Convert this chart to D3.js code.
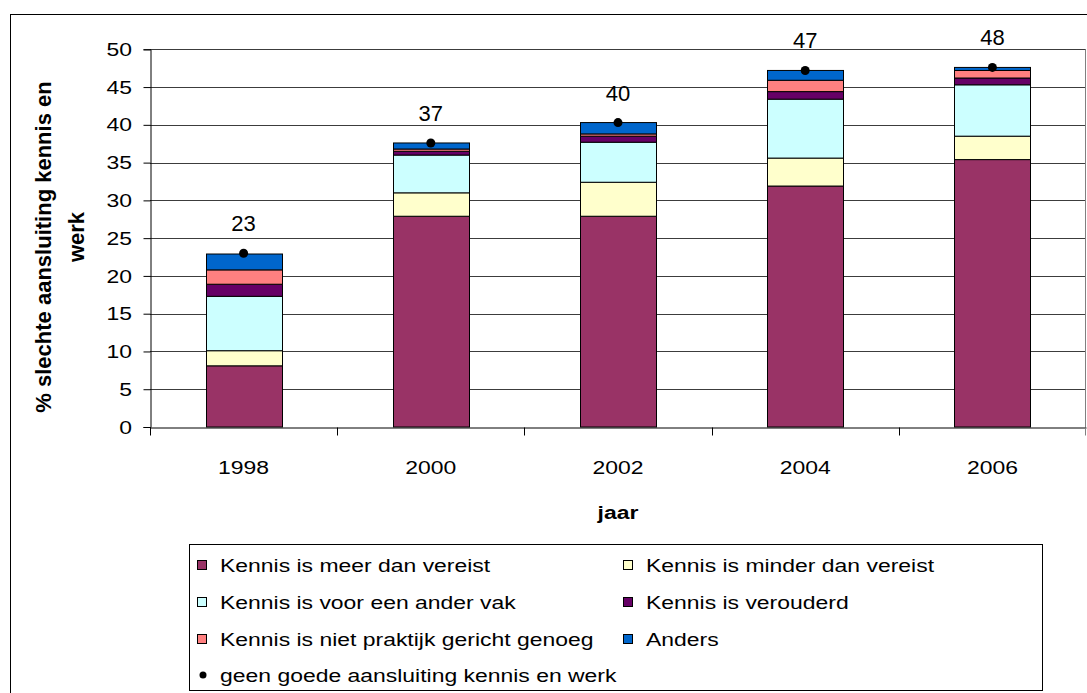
<!DOCTYPE html>
<html>
<head>
<meta charset="utf-8">
<script src="https://cdn.jsdelivr.net/npm/d3@7"></script>
<style>
  body { margin: 0; background: #fff; }
  svg { display: block; font-family: 'Liberation Sans', Arial, sans-serif; }
</style>
</head>
<body>
<svg id="chart" width="1087" height="693"></svg>
<script>
// data
const years = ['1998', '2000', '2002', '2004', '2006'];
const meerDanVereist   = [8.1, 27.9, 27.9, 31.9, 35.4];
const minderDanVereist = [2.0, 3.1, 4.5, 3.7, 3.1];
const anderVak         = [7.2, 5.0, 5.3, 7.8, 6.8];
const verouderd        = [1.6, 0.5, 0.8, 1.0, 0.9];
const nietPraktijk     = [1.9, 0.3, 0.3, 1.5, 1.0];
const anders           = [2.1, 0.8, 1.5, 1.3, 0.4];
const geenGoedeAansluiting = [23.0, 37.6, 40.3, 47.2, 47.6];
const pointLabels = ['23', '37', '40', '47', '48'];
const yTicks = [0, 5, 10, 15, 20, 25, 30, 35, 40, 45, 50];

const seriesNames = [
  'Kennis is meer dan vereist',
  'Kennis is minder dan vereist',
  'Kennis is voor een ander vak',
  'Kennis is verouderd',
  'Kennis is niet praktijk gericht genoeg',
  'Anders'
];
const seriesValues = [meerDanVereist, minderDanVereist, anderVak, verouderd, nietPraktijk, anders];
const colors = ['#993366', '#FFFFCC', '#CCFFFF', '#660066', '#FF8080', '#0066CC'];
const lineName = 'geen goede aansluiting kennis en werk';

const svg = d3.select('#chart');
const sx = 1.24; // the picture is a bit wider than tall

// table for d3.stack
let table = years.map((year, i) => {
  let row = { year: year };
  seriesNames.forEach((name, s) => { row[name] = seriesValues[s][i]; });
  return row;
});
let stacked = d3.stack().keys(seriesNames)(table);

// chart frame
svg.append('rect')
  .attr('x', 10.5).attr('y', 14.5)
  .attr('width', 1100).attr('height', 700)
  .attr('fill', 'none').attr('stroke', '#000');

let plotLeft = 150, plotRight = 1086, plotTop = 49.3, plotBottom = 427;

let xCat = d3.scaleBand().domain(years).range([plotLeft, plotRight]);
let x = d3.scaleBand().domain(years).range([plotLeft, plotRight])
  .paddingInner(0.594).paddingOuter(0.297);
let y = d3.scaleLinear().domain([0, 50]).range([plotBottom, plotTop]);

// gridlines
svg.append('g')
  .selectAll('line')
  .data(yTicks.slice(1))
  .join('line')
  .attr('x1', plotLeft).attr('x2', plotRight)
  .attr('y1', d => Math.round(y(d)) + 0.5)
  .attr('y2', d => Math.round(y(d)) + 0.5)
  .attr('stroke', '#3c3c3c');

// plot area edge
svg.append('line')
  .attr('x1', plotRight - 0.5).attr('x2', plotRight - 0.5)
  .attr('y1', y(50)).attr('y2', plotBottom + 8)
  .attr('stroke', '#808080');

// bars
svg.append('g')
  .selectAll('g')
  .data(stacked)
  .join('g')
  .attr('fill', (d, i) => colors[i])
  .selectAll('rect')
  .data(d => d)
  .join('rect')
  .attr('x', d => Math.round(x(d.data.year)) + 0.5)
  .attr('width', Math.round(x.bandwidth()))
  .attr('y', d => y(d[1]))
  .attr('height', d => y(d[0]) - y(d[1]))
  .attr('stroke', '#000')
  .attr('stroke-width', 1);

// y axis
let yAxis = d3.axisLeft(y).tickValues(yTicks).tickSize(7).tickFormat('');
let yG = svg.append('g')
  .attr('transform', `translate(${plotLeft + 0.5},0)`)
  .call(yAxis);
yG.select('.domain').attr('stroke', '#000');
yG.selectAll('.tick line').attr('stroke', '#000');

svg.append('g')
  .selectAll('text')
  .data(yTicks)
  .join('text')
  .attr('transform', d => `translate(132,${y(d) + 6.6}) scale(${sx},1)`)
  .attr('text-anchor', 'end')
  .attr('font-size', 18.5)
  .text(d => d);

// x axis, ticks on category boundaries
let xAxis = d3.axisBottom(xCat).tickSize(0).tickFormat('');
let xG = svg.append('g')
  .attr('transform', `translate(0,${plotBottom + 0.5})`)
  .call(xAxis);
xG.select('.domain').attr('stroke', '#000');
xG.append('g')
  .selectAll('line')
  .data(years.concat(['end']))
  .join('line')
  .attr('x1', d => d === 'end' ? plotRight - 0.5 : Math.round(xCat(d)) + 0.5)
  .attr('x2', d => d === 'end' ? plotRight - 0.5 : Math.round(xCat(d)) + 0.5)
  .attr('y1', 0).attr('y2', 8)
  .attr('stroke', d => d === 'end' ? '#808080' : '#000');

svg.append('g')
  .selectAll('text')
  .data(years)
  .join('text')
  .attr('transform', d => `translate(${xCat(d) + xCat.bandwidth() / 2},474) scale(${sx},1)`)
  .attr('text-anchor', 'middle')
  .attr('font-size', 18.5)
  .text(d => d);

// axis titles
svg.append('text')
  .attr('transform', `translate(${(plotLeft + plotRight) / 2},519) scale(${sx},1)`)
  .attr('text-anchor', 'middle')
  .attr('font-size', 18.5)
  .attr('font-weight', 'bold')
  .text('jaar');

svg.append('text')
  .attr('transform', 'translate(51,247) rotate(-90)')
  .attr('text-anchor', 'middle')
  .attr('font-size', 22)
  .attr('font-weight', 'bold')
  .text('% slechte aansluiting kennis en');
svg.append('text')
  .attr('transform', 'translate(84,237) rotate(-90)')
  .attr('text-anchor', 'middle')
  .attr('font-size', 22)
  .attr('font-weight', 'bold')
  .text('werk');

// markers of the line series, no line
svg.append('g')
  .selectAll('circle')
  .data(geenGoedeAansluiting)
  .join('circle')
  .attr('cx', (d, i) => xCat(years[i]) + xCat.bandwidth() / 2)
  .attr('cy', d => y(d))
  .attr('r', 4.5)
  .attr('fill', '#000');

svg.append('g')
  .selectAll('text')
  .data(geenGoedeAansluiting)
  .join('text')
  .attr('x', (d, i) => xCat(years[i]) + xCat.bandwidth() / 2)
  .attr('y', d => y(d) - 22)
  .attr('text-anchor', 'middle')
  .attr('font-size', 22)
  .text((d, i) => pointLabels[i]);

// legend
let legend = svg.append('g');
legend.append('rect')
  .attr('x', 189.5).attr('y', 544.5)
  .attr('width', 853).attr('height', 146)
  .attr('fill', '#fff').attr('stroke', '#000');

let rowY = [565, 602, 639, 675];
let colX = [197, 623];
seriesNames.forEach((name, i) => {
  let cx = colX[i % 2], cy = rowY[Math.floor(i / 2)];
  legend.append('rect')
    .attr('x', cx + 0.5).attr('y', cy - 4.5)
    .attr('width', 9).attr('height', 9)
    .attr('fill', colors[i]).attr('stroke', '#000');
  legend.append('text')
    .attr('transform', `translate(${cx + 23},${cy + 6.6}) scale(${sx},1)`)
    .attr('font-size', 18.5)
    .text(name);
});
legend.append('circle')
  .attr('cx', 203).attr('cy', rowY[3])
  .attr('r', 3.5).attr('fill', '#000');
legend.append('text')
  .attr('transform', `translate(220,${rowY[3] + 6.6}) scale(${sx},1)`)
  .attr('font-size', 18.5)
  .text(lineName);
</script>
</body>
</html>
